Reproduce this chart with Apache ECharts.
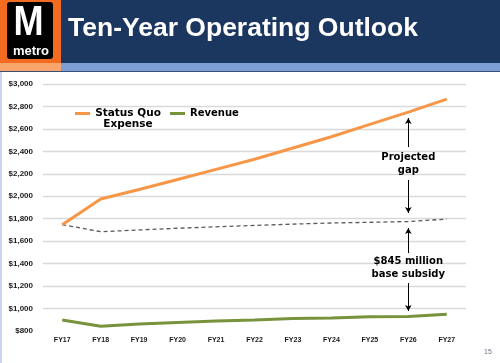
<!DOCTYPE html>
<html>
<head>
<meta charset="utf-8">
<script src="https://cdn.jsdelivr.net/npm/echarts@6/dist/echarts.min.js"></script>
<style>
html,body{margin:0;padding:0;background:#fff;}
#chart{width:500px;height:363px;}
</style>
</head>
<body>
<div id="chart"></div>
<script>
// ---- data ----
const categories = ['FY17','FY18','FY19','FY20','FY21','FY22','FY23','FY24','FY25','FY26','FY27'];
const expense = [1747, 1975, 2060, 2150, 2240, 2330, 2430, 2530, 2640, 2750, 2865];
const baseline = [1747, 1684, 1700, 1715, 1728, 1740, 1752, 1762, 1768, 1775, 1797];
const revenue = [898, 842, 862, 875, 888, 898, 912, 916, 928, 930, 950];
const yTicks = {min: 800, max: 3000, interval: 200};
const annotationCategory = 'FY26';
const gapArrows = [[2439, 2697], [2145, 1851]];       // [from, arrow tip]
const subsidyArrows = [[1494, 1717], [1227, 978]];
const gapLabel = {value: 2290, text: 'Projected\ngap'};
const subsidyLabel = {value: 1360, text: '$845 million\nbase subsidy'};

const chart = echarts.init(document.getElementById('chart'), null, {renderer: 'canvas'});

const splitColors = [];
for (let v = yTicks.min; v <= yTicks.max; v += yTicks.interval) {
  splitColors.push(v === yTicks.min ? 'rgba(0,0,0,0)' : '#D9D9D9');
}

function arrowLines(pairs) {
  return pairs.map(p => [
    {coord: [annotationCategory, p[0]], symbol: 'none'},
    {coord: [annotationCategory, p[1]], symbol: 'arrow'}
  ]);
}

const annoFont = {fontFamily: 'DejaVu Sans', fontWeight: 'bold', fontSize: 10, color: '#000'};

chart.setOption({
  animation: false,
  backgroundColor: '#fff',
  grid: {left: 43, right: 34, top: 84, bottom: 32, containLabel: false},
  legend: {
    left: 75, top: 97, padding: 0, itemGap: 9,
    itemWidth: 15, itemHeight: 3, icon: 'rect',
    data: ['Status Quo Expense', 'Revenue'],
    formatter: function (name) {
      return name === 'Status Quo Expense'
        ? '{h| }\n{a|Status Quo}\n{a|Expense}'
        : '{b|Revenue}';
    },
    textStyle: {
      lineHeight: 11,
      rich: {
        h: {fontSize: 10.5, lineHeight: 11, fontFamily: 'DejaVu Sans'},
        a: {fontFamily: 'DejaVu Sans', fontWeight: 'bold', fontSize: 10.5, lineHeight: 11, color: '#000', width: 66, align: 'center'},
        b: {fontFamily: 'DejaVu Sans', fontWeight: 'bold', fontSize: 10, lineHeight: 11, color: '#000'}
      }
    }
  },
  xAxis: {
    type: 'category', data: categories, boundaryGap: true,
    axisLine: {show: false}, axisTick: {show: false},
    axisLabel: {fontFamily: 'Liberation Sans', fontWeight: 'bold', fontSize: 7, color: '#1a1a1a', margin: 6}
  },
  yAxis: {
    type: 'value', min: yTicks.min, max: yTicks.max, interval: yTicks.interval,
    axisLine: {show: false}, axisTick: {show: false},
    axisLabel: {
      fontFamily: 'Liberation Sans', fontWeight: 'bold', fontSize: 8, color: '#1a1a1a', margin: 10,
      formatter: v => '$' + v.toLocaleString('en-US')
    },
    splitLine: {lineStyle: {color: splitColors, width: 1.3}}
  },
  series: [
    {
      name: 'Status Quo Expense', type: 'line', data: expense, showSymbol: false,
      lineStyle: {color: '#F79646', width: 3}, itemStyle: {color: '#F79646'}, z: 3
    },
    {
      name: 'Revenue', type: 'line', data: revenue, showSymbol: false,
      lineStyle: {color: '#77933C', width: 3}, itemStyle: {color: '#77933C'}, z: 3
    },
    {
      name: 'Base', type: 'line', data: baseline, showSymbol: false,
      lineStyle: {color: '#595959', width: 1.3, type: [4, 3]}, itemStyle: {color: '#595959'}, z: 2,
      markLine: {
        silent: true, animation: false,
        symbolSize: [5, 6],
        lineStyle: {color: '#000', width: 1, type: 'solid'},
        label: {show: false},
        data: arrowLines(gapArrows).concat(arrowLines(subsidyArrows))
      },
      markPoint: {
        silent: true, animation: false,
        symbol: 'circle', symbolSize: 0,
        label: Object.assign({show: true, position: 'inside', formatter: '{b}', lineHeight: 13, align: 'center'}, annoFont),
        data: [
          {name: gapLabel.text, coord: [annotationCategory, gapLabel.value]},
          {name: subsidyLabel.text, coord: [annotationCategory, subsidyLabel.value]}
        ]
      }
    }
  ],
  graphic: [
    {type: 'rect', shape: {x: 0, y: 0, width: 500, height: 63}, style: {fill: '#1B365F'}, silent: true},
    {type: 'rect', shape: {x: 0, y: 0, width: 61, height: 63}, style: {fill: '#F26B21'}, silent: true},
    {type: 'rect', shape: {x: 0, y: 63, width: 500, height: 8}, style: {fill: '#7E9ED6'}, silent: true},
    {type: 'rect', shape: {x: 0, y: 63, width: 61, height: 8}, style: {fill: '#F9A46A'}, silent: true},
    {type: 'rect', shape: {x: 0, y: 71, width: 500, height: 1}, style: {fill: '#3A4F78'}, silent: true},
    {type: 'rect', shape: {x: 0, y: 72, width: 2, height: 291}, style: {fill: '#C9D6EE'}, silent: true},
    {type: 'rect', shape: {x: 7, y: 2, width: 46, height: 57, r: 3}, style: {fill: '#000'}, silent: true},
    {type: 'text', x: 28.5, y: 23, scaleX: 0.86, style: {text: 'M', fill: '#fff', font: 'bold 42px "Liberation Sans"', align: 'center', verticalAlign: 'middle'}, silent: true},
    {type: 'text', x: 31, y: 51, style: {text: 'metro', fill: '#fff', font: 'bold 13px "Liberation Sans"', align: 'center', verticalAlign: 'middle'}, silent: true},
    {type: 'text', x: 68, y: 29, style: {text: 'Ten-Year Operating Outlook', fill: '#fff', font: 'bold 26.5px "Liberation Sans"', align: 'left', verticalAlign: 'middle'}, silent: true},
    {type: 'text', x: 488, y: 352, style: {text: '15', fill: '#6B7280', font: '7px "Liberation Sans"', align: 'center', verticalAlign: 'middle'}, silent: true}
  ]
});
</script>
</body>
</html>
